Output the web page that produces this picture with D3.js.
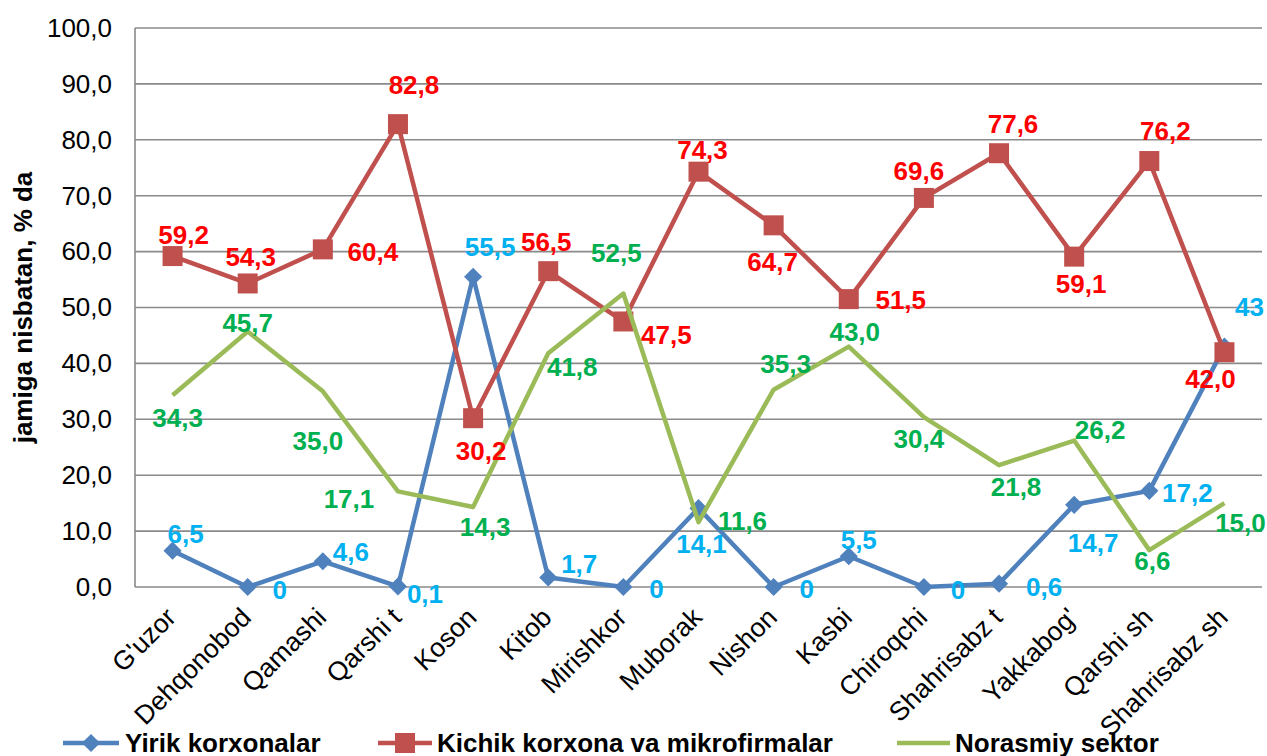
<!DOCTYPE html>
<html>
<head>
<meta charset="utf-8">
<script src="https://cdn.jsdelivr.net/npm/d3@7"></script>
<style>
  html, body { margin: 0; padding: 0; background: #fff; }
  svg { display: block; font-family: "Liberation Sans", Arial, sans-serif; }
</style>
</head>
<body>
<div id="app"></div>
<script>
const categories = ["G'uzor", "Dehqonobod", "Qamashi", "Qarshi t", "Koson", "Kitob", "Mirishkor",
  "Muborak", "Nishon", "Kasbi", "Chiroqchi", "Shahrisabz t", "Yakkabog'", "Qarshi sh", "Shahrisabz sh"];

const yirik = [6.5, 0, 4.6, 0.1, 55.5, 1.7, 0, 14.1, 0, 5.5, 0, 0.6, 14.7, 17.2, 43];
const kichik = [59.2, 54.3, 60.4, 82.8, 30.2, 56.5, 47.5, 74.3, 64.7, 51.5, 69.6, 77.6, 59.1, 76.2, 42.0];
const norasmiy = [34.3, 45.7, 35.0, 17.1, 14.3, 41.8, 52.5, 11.6, 35.3, 43.0, 30.4, 21.8, 26.2, 6.6, 15.0];

const yTicks = [0, 10, 20, 30, 40, 50, 60, 70, 80, 90, 100];

// where each data label sits relative to its point (dx, dy in px)
const yirikLabelOffsets = [[13, -17], [32, 3], [28, -9], [27, 8], [17, -30], [31, -13], [33, 2], [3, 36],
  [33, 2], [10, -16], [34, 3], [45, 3], [19, 38], [38, 2], [25, -40]];
const kichikLabelOffsets = [[11, -21], [3, -26], [50, 3], [16, -39], [8, 33], [-2, -29], [43, 14], [4, -22],
  [-1, 37], [52, 1], [-5, -27], [14, -29], [7, 27], [16, -30], [-14, 27]];
const norasmiyLabelOffsets = [[5, 23], [0, -9], [-5, 50], [-49, 8], [12, 20], [24, 14], [-7, -41], [44, -1],
  [12, -26], [6, -15], [-5, 22], [17, 22], [26, -11], [3, 11], [16, 20]];

const W = 1267, H = 756;
const fmt1 = (v) => v.toFixed(1).replace(".", ",");
const fmtGen = (v) => String(v).replace(".", ",");

const series = [
  { name: "Yirik korxonalar", values: yirik, color: "#4F81BD", label: "#00B0F0", marker: "diamond", offsets: yirikLabelOffsets, fmt: fmtGen },
  { name: "Kichik korxona va mikrofirmalar", values: kichik, color: "#C0504D", label: "#FF0000", marker: "square", offsets: kichikLabelOffsets, fmt: fmt1 },
  { name: "Norasmiy sektor", values: norasmiy, color: "#9BBB59", label: "#00B050", marker: null, offsets: norasmiyLabelOffsets, fmt: fmt1 }
];

const svg = d3.select("#app").append("svg").attr("width", W).attr("height", H);
svg.append("rect").attr("width", W).attr("height", H).attr("fill", "#fff");

const x = d3.scalePoint().domain(categories).range([135, 1262]).padding(0.5);
const y = d3.scaleLinear().domain([0, 100]).range([587, 28]);

// gridlines
svg.append("g")
  .selectAll("line")
  .data(yTicks)
  .join("line")
  .attr("x1", 135).attr("x2", 1262)
  .attr("y1", (d) => y(d)).attr("y2", (d) => y(d))
  .attr("stroke", "#8a8a8a").attr("stroke-width", 1.6);

svg.append("line")
  .attr("x1", 135).attr("x2", 135).attr("y1", y(100)).attr("y2", y(0))
  .attr("stroke", "#8a8a8a").attr("stroke-width", 1.6);

// y axis labels
const yAxis = svg.append("g")
  .attr("transform", "translate(135,0)")
  .call(d3.axisLeft(y).tickValues(yTicks).tickSize(0).tickPadding(23).tickFormat(fmt1));
yAxis.select(".domain").remove();
yAxis.selectAll("text")
  .attr("font-family", "Liberation Sans, Arial, sans-serif")
  .attr("font-size", 26).attr("fill", "#000");

// category labels
svg.append("g")
  .selectAll("text")
  .data(categories)
  .join("text")
  .attr("transform", (d) => `translate(${x(d) + 5},619) rotate(-45)`)
  .attr("text-anchor", "end")
  .attr("font-size", 26.5)
  .attr("fill", "#000")
  .text((d) => d);

// y title
svg.append("text")
  .attr("transform", `translate(32,${(y(0) + y(100)) / 2}) rotate(-90)`)
  .attr("text-anchor", "middle")
  .attr("font-size", 26)
  .attr("font-weight", "bold")
  .text("jamiga nisbatan, % da");

const line = d3.line().x((d, i) => x(categories[i])).y((d) => y(d));

const drawMarker = (g, type, cx, cy, color) => {
  if (type === "diamond") {
    g.append("path")
      .attr("d", d3.symbol(d3.symbolDiamond2, 210)())
      .attr("transform", `translate(${cx},${cy})`)
      .attr("fill", color);
  } else if (type === "square") {
    g.append("rect")
      .attr("x", cx - 10).attr("y", cy - 10)
      .attr("width", 20).attr("height", 20)
      .attr("fill", color);
  }
};

series.forEach((s) => {
  const g = svg.append("g");
  g.append("path")
    .datum(s.values)
    .attr("d", line)
    .attr("fill", "none")
    .attr("stroke", s.color)
    .attr("stroke-width", 4.5)
    .attr("stroke-linejoin", "round");
  s.values.forEach((v, i) => drawMarker(g, s.marker, x(categories[i]), y(v), s.color));
});

// data labels on top
series.forEach((s) => {
  svg.append("g")
    .selectAll("text")
    .data(s.values)
    .join("text")
    .attr("x", (d, i) => x(categories[i]) + s.offsets[i][0])
    .attr("y", (d, i) => y(d) + s.offsets[i][1])
    .attr("text-anchor", "middle")
    .attr("dominant-baseline", "central")
    .attr("font-size", 26)
    .attr("font-weight", "bold")
    .attr("fill", s.label)
    .text((d) => s.fmt(d));
});

// legend
const legendItems = [
  { s: series[0], x0: 63, x1: 119, tx: 125 },
  { s: series[1], x0: 378, x1: 432, tx: 437 },
  { s: series[2], x0: 897, x1: 950, tx: 955 }
];
const legend = svg.append("g");
legendItems.forEach((it) => {
  legend.append("line")
    .attr("x1", it.x0).attr("x2", it.x1).attr("y1", 743).attr("y2", 743)
    .attr("stroke", it.s.color).attr("stroke-width", 4.5);
  drawMarker(legend, it.s.marker, (it.x0 + it.x1) / 2, 743, it.s.color);
  legend.append("text")
    .attr("x", it.tx).attr("y", 752)
    .attr("font-size", 26)
    .attr("font-weight", "bold")
    .attr("fill", "#000")
    .text(it.s.name);
});
</script>
</body>
</html>
